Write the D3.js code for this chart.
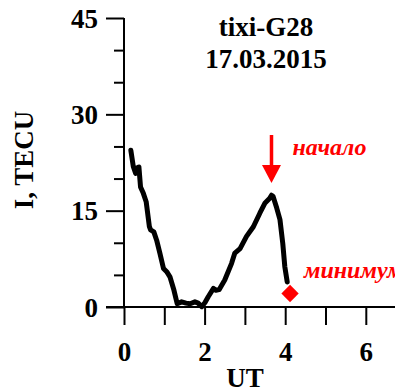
<!DOCTYPE html>
<html>
<head>
<meta charset="utf-8">
<script src="https://cdn.jsdelivr.net/npm/d3@7"></script>
<style>
  html, body { margin: 0; padding: 0; background: #fff; }
  svg { display: block; }
  svg text { font-family: "Liberation Serif", "Times New Roman", serif !important; font-weight: bold; }
</style>
</head>
<body>
<svg id="chart" width="395" height="392"></svg>
<script>
// ---- data ----
const ut = [0.17,0.23,0.29,0.31,0.37,0.41,0.48,0.55,0.63,0.66,0.74,0.81,0.89,0.98,1.06,1.14,1.24,1.32,1.43,1.54,1.64,1.76,1.84,1.93,2.01,2.09,2.22,2.28,2.36,2.50,2.67,2.75,2.88,3.04,3.21,3.37,3.50,3.61,3.66,3.70,3.79,3.87,3.94,3.99,4.05];
const tec = [24.4,21.9,20.8,21.6,21.8,18.7,17.7,16.4,12.5,12.0,11.7,10.4,8.4,6.0,5.5,4.7,2.6,0.5,0.8,0.6,0.5,0.8,0.6,0.05,0.7,1.6,2.9,2.6,2.7,4.2,6.8,8.4,9.1,11.0,12.5,14.6,16.2,16.9,17.4,17.2,15.4,13.6,9.9,6.3,3.9];
const minimumPoint = [4.12, 2.1];
const onsetUT = 3.66;
const xTicks = [0,1,2,3,4,5,6];
const xLabels = [0,2,4,6];
const yMajor = [0,15,30,45];
const yMinor = [5,10,20,25,35,40];
const titleLines = ["tixi-G28", "17.03.2015"];
const xTitle = "UT";
const yTitle = "I, TECU";
const onsetLabel = "начало";
const minLabel = "минимум";

// ---- layout ----
const SERIF = '"Liberation Serif", "Times New Roman", serif';
const svg = d3.select("#chart");
const x = d3.scaleLinear().domain([0, 7]).range([124, 124 + 7 * 40.3]);
const y = d3.scaleLinear().domain([0, 45]).range([307, 18]);
const FS = 27;

// y minor ticks
const gyMinor = svg.append("g").attr("transform", `translate(${x(0)},0)`)
  .call(d3.axisLeft(y).tickValues(yMinor).tickSize(10).tickSizeOuter(0).tickFormat(""));
gyMinor.select(".domain").remove();
// y major ticks
const gy = svg.append("g").attr("transform", `translate(${x(0)},0)`)
  .call(d3.axisLeft(y).tickValues(yMajor).tickSize(18).tickSizeOuter(0).tickPadding(8));
gy.select(".domain").remove();
gy.attr("font-family", SERIF).attr("font-size", FS).attr("font-weight", "bold");
gy.selectAll("text").attr("dy", "0.34em").attr("x", -26);

// x axis ticks
const gx = svg.append("g").attr("transform", `translate(0,${y(0)})`)
  .call(d3.axisBottom(x).tickValues(xTicks).tickSize(18).tickSizeOuter(0)
    .tickFormat(d => xLabels.includes(d) ? d : ""));
gx.select(".domain").remove();
gx.attr("font-family", SERIF).attr("font-size", FS).attr("font-weight", "bold");
gx.selectAll("text").attr("y", 45).attr("dy", "0.34em");

svg.selectAll(".tick line").attr("stroke", "#000").attr("stroke-width", 2);
svg.selectAll(".tick text").attr("fill", "#000");

// axis lines
svg.append("line").attr("x1", x(0)).attr("x2", x(0)).attr("y1", y(45)).attr("y2", y(0))
  .attr("stroke", "#000").attr("stroke-width", 2);
svg.append("line").attr("x1", x(0) - 18).attr("x2", 395).attr("y1", y(0)).attr("y2", y(0))
  .attr("stroke", "#000").attr("stroke-width", 2);

// curve
const pts = ut.map((u, i) => [u, tec[i]]);
svg.append("path").datum(pts)
  .attr("fill", "none").attr("stroke", "#000").attr("stroke-width", 5)
  .attr("stroke-linejoin", "round").attr("stroke-linecap", "round")
  .attr("d", d3.line().x(d => x(d[0])).y(d => y(d[1])));

// minimum marker
svg.append("path")
  .attr("d", d3.symbol(d3.symbolSquare, 150)())
  .attr("transform", `translate(${x(minimumPoint[0])},${y(minimumPoint[1])}) rotate(45)`)
  .attr("fill", "#ff0000");

// onset arrow
const ax = x(onsetUT);
svg.append("line").attr("x1", ax).attr("x2", ax).attr("y1", 135).attr("y2", 168)
  .attr("stroke", "#ff0000").attr("stroke-width", 3.5);
svg.append("path")
  .attr("d", `M${ax - 9.5},165 L${ax + 9.5},165 L${ax},183 Z`)
  .attr("fill", "#ff0000");

// annotations
svg.append("text").attr("x", ax + 21).attr("y", 155).attr("font-size", 24)
  .attr("font-style", "italic").attr("fill", "#ff0000").text(onsetLabel);
svg.append("text").attr("x", 304).attr("y", 278).attr("font-size", 24)
  .attr("font-style", "italic").attr("fill", "#ff0000").text(minLabel);

// titles
svg.append("text").attr("x", 266).attr("y", 36).attr("text-anchor", "middle")
  .attr("font-size", FS).text(titleLines[0]);
svg.append("text").attr("x", 266).attr("y", 68).attr("text-anchor", "middle")
  .attr("font-size", FS).text(titleLines[1]);

svg.append("text").attr("x", x(3)).attr("y", 387).attr("text-anchor", "middle")
  .attr("font-size", FS).text(xTitle);
svg.append("text").attr("transform", "translate(33,160) rotate(-90)")
  .attr("text-anchor", "middle").attr("font-size", FS).text(yTitle);
</script>
</body>
</html>
